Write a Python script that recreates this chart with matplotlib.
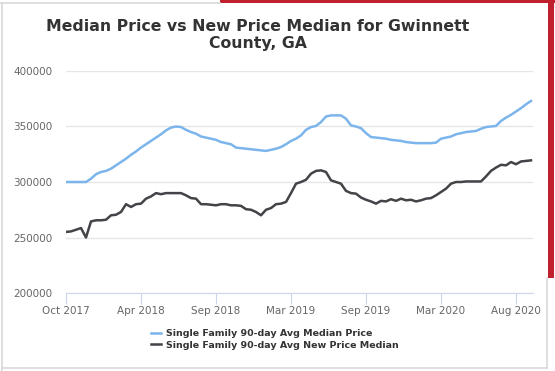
import matplotlib.pyplot as plt
from matplotlib.lines import Line2D
from matplotlib.patches import Rectangle


# ---------------------------------------------------------
# Data (weekly-ish samples)
# ---------------------------------------------------------

tick_labels = ["Oct 2017", "Apr 2018", "Sep 2018", "Mar 2019",
               "Sep 2019", "Mar 2020", "Aug 2020"]
tick_step = 15

median_price = [
    300000, 300000, 300000, 300000, 300000, 303000, 307000, 309000, 310000, 312000,
    315000, 318000, 321000, 324500, 327500, 331000, 334000, 337000, 340000, 343000,
    346500, 349000, 350000, 349500, 347000, 345000, 343500, 341000, 340000, 339000,
    338000, 336000, 335000, 334000, 331000, 330500, 330000, 329500, 329000, 328500,
    328000, 329000, 330000, 331500, 334000, 337000, 339000, 342000, 347000, 349500,
    350500, 354000, 359000, 360000, 360000, 360000, 357000, 351000, 350000, 348500,
    344000, 340500, 340000, 339500, 339000, 338000, 337500, 337000, 336000, 335500,
    335000, 335000, 335000, 335000, 335500, 339000, 340000, 341000, 343000, 344000,
    345000, 345500, 346000, 348000, 349500, 350000, 350500, 355000, 358000, 360500,
    363500, 366500, 370000, 373000,
]

new_price_median = [
    255000, 255500, 257000, 258500, 250000, 264500, 265500, 265500, 266000, 270000,
    270500, 273000, 280000, 277500, 280000, 280500, 285000, 287000, 290000, 289000,
    290000, 290000, 290000, 290000, 288000, 285500, 285000, 280000, 280000, 279500,
    279000, 280000, 280000, 279000, 279000, 278500, 275500, 275000, 273000, 270000,
    275000, 276500, 280000, 280500, 282000, 290000, 298500, 300000, 302000, 307500,
    310000, 310500, 309000, 301500, 300000, 298500, 292000, 290000, 289500, 286000,
    284000, 282500, 280500, 283000, 282500, 284500, 283000, 285000, 283500, 284000,
    282500, 283500, 285000, 285500, 288000, 291000, 294000, 298500, 300000, 300000,
    300500, 300500, 300500, 300500, 305000, 310000, 313000, 315500, 315000, 318000,
    316000, 318500, 319000, 319500,
]

y_ticks = [200000, 250000, 300000, 350000, 400000]


# ---------------------------------------------------------
# Figure and card frame
# ---------------------------------------------------------

W, H = 555, 371
fig = plt.figure(figsize=(W / 100, H / 100), dpi=100)
fig.patch.set_facecolor("white")

# light grey card border
fig.add_artist(Line2D([2 / W, 2 / W], [0 / H, 1 - 3 / H], color="#d9d9d9", lw=1.2))
fig.add_artist(Line2D([2 / W, 547 / W], [1 - 368 / H, 1 - 368 / H], color="#d9d9d9", lw=1.2))
fig.add_artist(Line2D([547 / W, 547 / W], [1 - 368 / H, 1 - 278 / H], color="#d9d9d9", lw=1.2))
fig.add_artist(Line2D([0, 220 / W], [1 - 3 / H, 1 - 3 / H], color="#d9d9d9", lw=1.2))

# red accent on top / right
fig.add_artist(Rectangle((220 / W, 1 - 3 / H), 1 - 220 / W, 3 / H,
                         color="#c0202e", lw=0))
fig.add_artist(Rectangle((548 / W, 1 - 278 / H), 6 / W, 278 / H,
                         color="#c0202e", lw=0))


# ---------------------------------------------------------
# Axes
# ---------------------------------------------------------

ax = fig.add_axes([66 / W, 1 - 293 / H, (533 - 66) / W, (293 - 71) / H])

x = list(range(len(median_price)))

ax.plot(x, median_price, color="#7cb5ec", lw=1.8,
        label="Single Family 90-day Avg Median Price")
ax.plot(x, new_price_median, color="#434348", lw=1.8,
        label="Single Family 90-day Avg New Price Median")

ax.set_xlim(0, (533 - 66) / 5)
ax.set_ylim(200000, 400000)

ax.set_yticks(y_ticks)
ax.set_yticklabels([str(v) for v in y_ticks])
ax.set_xticks([i * tick_step for i in range(len(tick_labels))])
ax.set_xticklabels(tick_labels)

ax.grid(axis="y", color="#e6e6e6", lw=1)
ax.set_axisbelow(True)

for side in ["top", "right", "left"]:
    ax.spines[side].set_visible(False)
ax.spines["bottom"].set_color("#ccd6eb")

ax.tick_params(axis="y", length=0, pad=10, labelsize=7.5, labelcolor="#666666")
ax.tick_params(axis="x", length=8, color="#ccd6eb", pad=1,
               labelsize=7.5, labelcolor="#666666")


# ---------------------------------------------------------
# Title and legend
# ---------------------------------------------------------

fig.text(258 / W, 1 - 35 / H,
         "Median Price vs New Price Median for Gwinnett\nCounty, GA",
         ha="center", va="center", fontsize=11.3, fontweight="bold",
         color="#333333", linespacing=1.15)

leg = fig.legend(loc="center", bbox_to_anchor=(275 / W, 1 - 339.5 / H),
                 frameon=False, fontsize=6.8, handlelength=1.0,
                 handletextpad=0.6, labelspacing=0.25, borderpad=0)
for text in leg.get_texts():
    text.set_fontweight("bold")
    text.set_color("#333333")

fig.savefig("out.png", dpi=100)
